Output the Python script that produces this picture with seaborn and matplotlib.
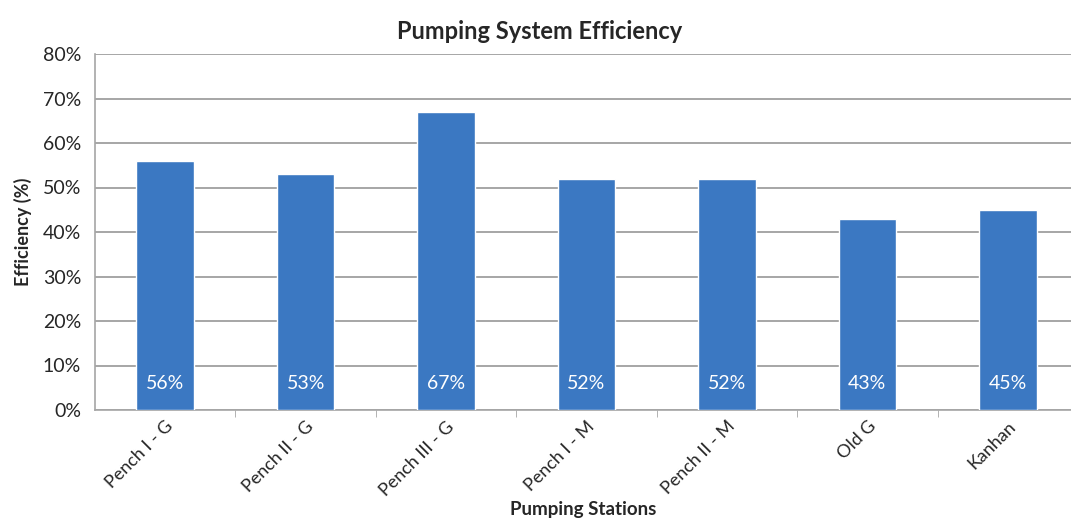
import pandas as pd
import matplotlib
matplotlib.use('Agg')
import matplotlib.pyplot as plt
import seaborn as sns
from matplotlib.ticker import FuncFormatter

stations = ['Pench I - G', 'Pench II - G', 'Pench III - G', 'Pench I - M',
            'Pench II - M', 'Old G', 'Kanhan']
efficiency = [56, 53, 67, 52, 52, 43, 45]
y_ticks = [0, 10, 20, 30, 40, 50, 60, 70, 80]


def main():
    sns.set_style('white')
    plt.rcParams['font.family'] = ['Lato', 'DejaVu Sans']

    df = pd.DataFrame({'Station': stations, 'Efficiency': efficiency})

    fig = plt.figure(figsize=(10.71, 5.22), dpi=100)
    ax = fig.add_axes([95 / 1071, 1 - 410 / 522, (1071 - 95) / 1071, (410 - 54) / 522])

    sns.barplot(data=df, x='Station', y='Efficiency', color='#3b78c2',
                saturation=1, width=0.41, ax=ax, zorder=3)

    ax.set_ylim(0, 80)
    ax.set_xlim(-0.5, 6.45)
    ax.set_yticks(y_ticks)
    ax.yaxis.set_major_formatter(FuncFormatter(lambda v, p: '%d%%' % v))
    ax.grid(axis='y', color='#a6a6a6', linewidth=1.4, zorder=0)

    for s in ['top', 'right']:
        ax.spines[s].set_visible(False)
    ax.spines['left'].set_color('#a6a6a6')
    ax.spines['bottom'].set_color('#a6a6a6')
    ax.spines['left'].set_linewidth(1.2)
    ax.spines['bottom'].set_linewidth(1.2)

    # tick marks between categories
    ax.set_xticks([i + 0.5 for i in range(6)], minor=True)
    ax.tick_params(axis='x', which='minor', length=5, color='#a6a6a6', bottom=True)
    ax.tick_params(axis='x', which='major', length=0, pad=6)
    ax.tick_params(axis='y', length=0, pad=10, labelsize=14)

    ax.set_xticks(range(len(stations)))
    ax.set_xticklabels(stations, rotation=45, ha='right', rotation_mode='anchor',
                       fontsize=13)

    for i, v in enumerate(efficiency):
        ax.text(i, 6, '%d%%' % v, color='white', ha='center', va='center',
                fontsize=14, zorder=4)

    ax.set_xlabel('Pumping Stations', fontsize=13.5, fontweight='bold', labelpad=2)
    ax.set_ylabel('Efficiency (%)', fontsize=13, fontweight='bold', labelpad=8)
    fig.text(540 / 1071, 1 - 31 / 522, 'Pumping System Efficiency', ha='center',
             va='center', fontsize=17, fontweight='bold')

    fig.savefig('out.png', dpi=100)


if __name__ == '__main__':
    main()
